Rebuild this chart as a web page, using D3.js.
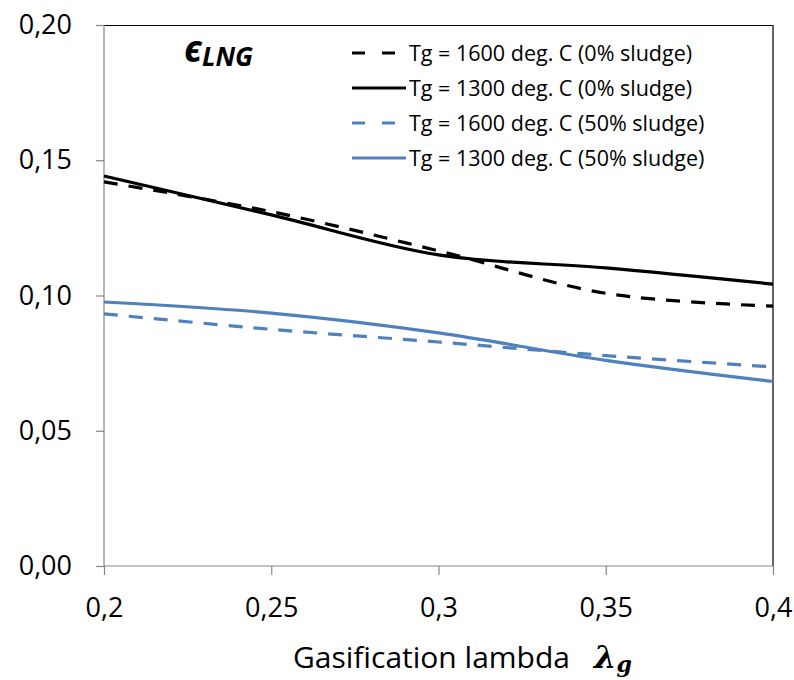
<!DOCTYPE html>
<html>
<head>
<meta charset="utf-8">
<script src="https://cdn.jsdelivr.net/npm/d3@7"></script>
<style>
  body { margin: 0; background: #fff; }
  text { font-family: "Open Sans", "Noto Sans", sans-serif; }
</style>
</head>
<body>
<div id="chart"></div>
<script>
const lambdas = [0.2, 0.25, 0.3, 0.35, 0.4];
const tg1600_0 = [0.1420, 0.1310, 0.1165, 0.1008, 0.0961];
const tg1300_0 = [0.1442, 0.1298, 0.1150, 0.1102, 0.1042];
const tg1600_50 = [0.0932, 0.0875, 0.0828, 0.0778, 0.0736];
const tg1300_50 = [0.0976, 0.0935, 0.0862, 0.0760, 0.0682];
const xTicks = [0.2, 0.25, 0.3, 0.35, 0.4];
const yTicks = [0, 0.05, 0.10, 0.15, 0.20];
const seriesNames = [
    "Tg = 1600 deg. C (0% sludge)",
    "Tg = 1300 deg. C (0% sludge)",
    "Tg = 1600 deg. C (50% sludge)",
    "Tg = 1300 deg. C (50% sludge)"
];

const black = "#000000";
const blue = "#4f81bd";
const series = [
    { name: seriesNames[0], values: tg1600_0, color: black, dashed: true },
    { name: seriesNames[1], values: tg1300_0, color: black, dashed: false },
    { name: seriesNames[2], values: tg1600_50, color: blue, dashed: true },
    { name: seriesNames[3], values: tg1300_50, color: blue, dashed: false }
];

const totalWidth = 794, totalHeight = 680;
const margins = { left: 104, right: 21, top: 25, bottom: 114 };
const width = totalWidth - margins.left - margins.right;
const height = totalHeight - margins.top - margins.bottom;

const svg = d3.select("#chart").append("svg")
    .attr("width", totalWidth)
    .attr("height", totalHeight)
    .append("g")
    .attr("transform", `translate(${margins.left},${margins.top})`);

const x = d3.scaleLinear().domain([0.2, 0.4]).range([0, width]);
const y = d3.scaleLinear().domain([0, 0.2]).range([height, 0]);
const comma = d => d3.format(".2f")(d).replace(".", ",");
const commaX = d => String(+d.toFixed(2)).replace(".", ",");

// frame: top and right in black
svg.append("path")
    .attr("d", `M0,0.5H${width}V${height}`)
    .attr("fill", "none")
    .attr("stroke", "#000")
    .attr("stroke-width", 1.2);

// Y axis
const yAxisG = svg.append("g")
    .call(d3.axisLeft(y).tickValues(yTicks).tickFormat(comma).tickSize(8).tickPadding(24));
yAxisG.selectAll("path, line").attr("stroke", "#868686").attr("stroke-width", 1.2);
yAxisG.selectAll("text").attr("font-size", "27px").attr("fill", "#000");

// X axis
const xAxisG = svg.append("g")
    .attr("transform", `translate(0,${height})`)
    .call(d3.axisBottom(x).tickValues(xTicks).tickFormat(commaX).tickSize(9).tickPadding(42));
xAxisG.selectAll("path, line").attr("stroke", "#868686").attr("stroke-width", 1.2);
xAxisG.selectAll("text").attr("font-size", "27px").attr("fill", "#000").attr("dy", "0");
xAxisG.select(".domain").attr("d", `M0,0H${width}`);
yAxisG.select(".domain").attr("d", `M0,${height}V0`);

// lines
const line = d3.line()
    .x((d, i) => x(lambdas[i]))
    .y(d => y(d))
    .curve(d3.curveCatmullRom.alpha(0.5));

svg.selectAll(".seriesLine").data(series).enter()
    .append("path")
    .attr("class", "seriesLine")
    .attr("d", d => line(d.values))
    .attr("fill", "none")
    .attr("stroke", d => d.color)
    .attr("stroke-width", 3.2)
    .attr("stroke-dasharray", d => d.dashed ? "14,11" : null);

// legend
const legend = svg.append("g").attr("transform", `translate(${352 - margins.left},${53 - margins.top})`);
const rows = legend.selectAll("g").data(series).enter()
    .append("g")
    .attr("transform", (d, i) => `translate(0,${i * 35})`);
rows.append("line")
    .attr("x1", 0).attr("x2", d => d.dashed ? 43 : 54)
    .attr("stroke", d => d.color)
    .attr("stroke-width", 3.2)
    .attr("stroke-dasharray", d => d.dashed ? "13,17" : null);
rows.append("text")
    .attr("x", 57)
    .attr("dy", "0.35em")
    .attr("font-size", "21.5px")
    .text(d => d.name);

// epsilon_LNG label
const eps = svg.append("text")
    .attr("x", 184 - margins.left)
    .attr("y", 62 - margins.top)
    .attr("font-family", "'DejaVu Serif', serif")
    .attr("font-weight", "bold")
    .attr("font-style", "italic");
eps.append("tspan").attr("font-size", "37px").text("\u03F5");
eps.append("tspan").attr("font-size", "26px").attr("dy", "4").text("LNG");

// x axis title
const title = svg.append("text")
    .attr("x", 293 - margins.left)
    .attr("y", 668 - margins.top)
    .attr("font-size", "30px");
title.append("tspan").text("Gasification lambda");
title.append("tspan")
    .attr("dx", "24")
    .attr("font-family", "'DejaVu Serif', serif")
    .attr("font-weight", "bold")
    .attr("font-style", "italic")
    .attr("font-size", "32px")
    .text("\u03BB");
title.append("tspan")
    .attr("font-family", "'DejaVu Serif', serif")
    .attr("font-weight", "bold")
    .attr("font-style", "italic")
    .attr("font-size", "22px")
    .attr("dy", "4")
    .text("g");
</script>
</body>
</html>
